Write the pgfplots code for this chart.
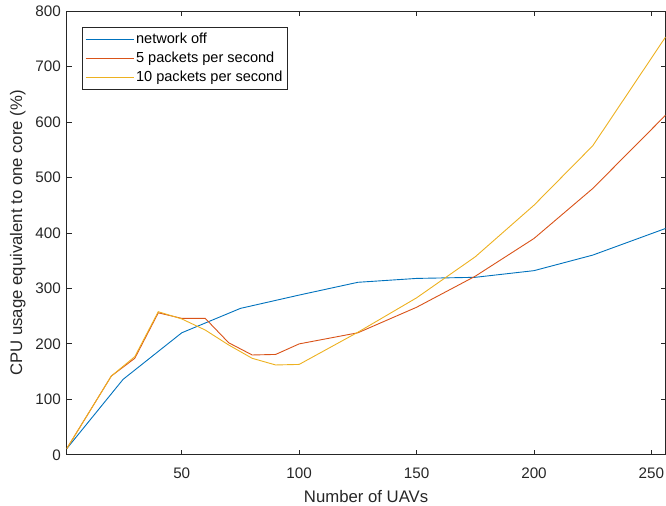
\documentclass[border=0pt]{standalone}
\usepackage{pgfplots}
\pgfplotsset{compat=1.18}
\usepackage{fontspec}
\setmainfont{Liberation Sans}
\definecolor{mblue}{rgb}{0,0.447,0.741}
\definecolor{morange}{rgb}{0.850,0.325,0.098}
\definecolor{myellow}{rgb}{0.929,0.694,0.125}
\definecolor{axgray}{rgb}{0.15,0.15,0.15}
\begin{document}
\begin{tikzpicture}
\begin{axis}[
  scale only axis,
  width=599bp, height=444bp,
  xmin=1, xmax=256, ymin=0, ymax=800,
  xtick={50,100,150,200,250},
  ytick={0,100,...,800},
  tick align=inside,
  tick pos=both,
  ticklabel pos=lower,
  major tick length=5bp,
  axis line style={axgray, line width=0.8bp},
  every tick/.style={axgray, line width=0.8bp},
  /pgf/number format/assume math mode=true,
  /pgf/number format/1000 sep={},
  ticklabel style={font=\fontsize{15.3}{18}\selectfont, text=axgray},
  yticklabel style={inner sep=0pt, anchor=east, xshift=-5.7bp},
  xticklabel style={inner sep=0pt, anchor=north, yshift=-13bp},
  xlabel={Number of UAVs},
  ylabel={CPU usage equivalent to one core (\%)},
  label style={font=\fontsize{16.8}{20}\selectfont, text=axgray},
  xlabel style={at={(axis description cs:0.5,-0.0946)}, anchor=center},
  ylabel style={at={(axis description cs:-0.0818,0.5)}, anchor=center, rotate=0},
  legend style={at={(axis description cs:0.0255,0.9646)}, anchor=north west,
    draw=axgray, line width=0.6bp, font=\fontsize{14.6}{17}\selectfont,
    inner xsep=3bp, inner ysep=4bp, row sep=3bp, cells={anchor=west}},
  legend image code/.code={\draw[#1, line width=0.9bp] (0bp,0bp) -- (48bp,0bp);},
  every axis plot/.append style={line width=0.9bp},
]
\addplot[mblue] coordinates {(1,11) (25,136) (50,220) (75,264) (100,288) (125,311) (150,318) (175,320) (200,332) (225,360) (256,408)};
\addlegendentry{network off}
\addplot[morange] coordinates {(1,11) (20,142) (30,174) (40,256) (50,246) (60,246) (70,202) (80,180) (90,181) (100,200) (125,220) (150,266) (175,322) (200,390) (225,480) (256,612)};
\addlegendentry{5 packets per second}
\addplot[myellow] coordinates {(1,11) (20,142) (30,177) (40,258) (50,245) (60,225) (70,198) (80,174) (90,162) (100,163) (125,221) (150,283) (175,357) (200,450) (225,557) (256,753)};
\addlegendentry{10 packets per second}
\end{axis}
\pgfresetboundingbox
\path ([xshift=-66.7bp,yshift=-51bp]current axis.south west) rectangle ([xshift=0.5bp,yshift=11bp]current axis.north east);
\end{tikzpicture}
\end{document}
